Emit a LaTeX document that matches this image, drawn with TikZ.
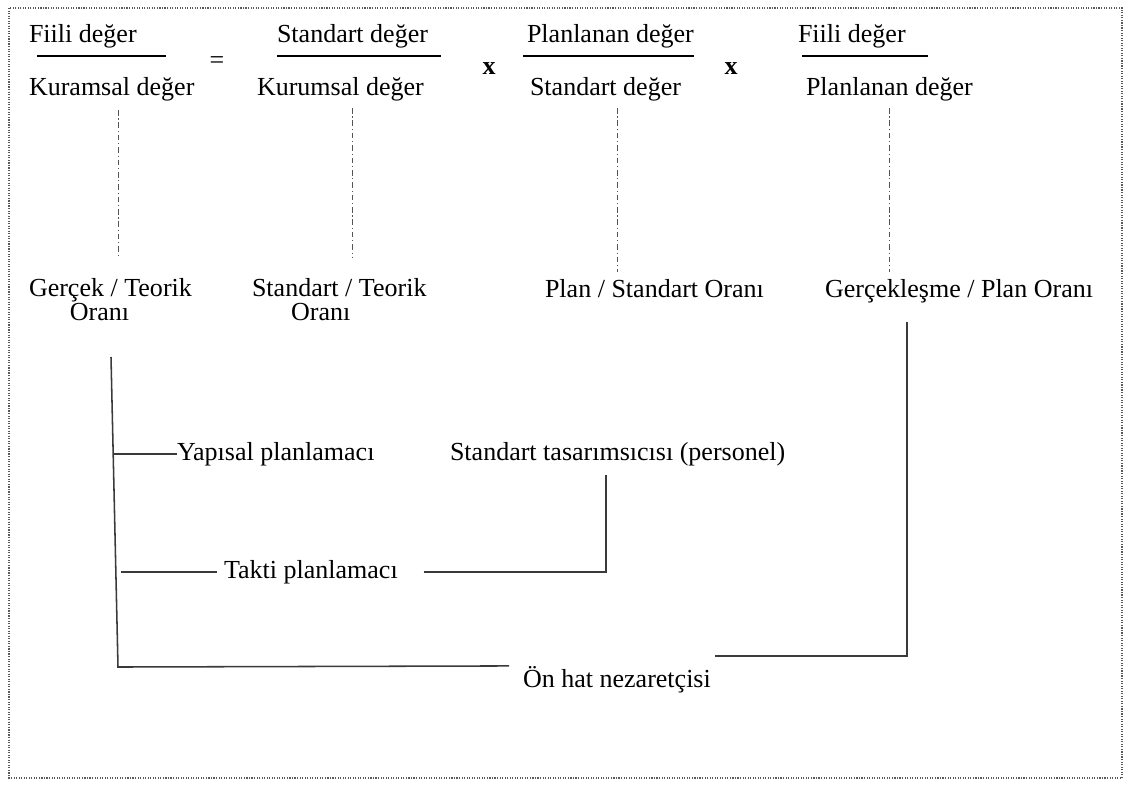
\documentclass[tikz,border=0pt]{standalone}
\usepackage{fontspec}
\setmainfont{Liberation Serif}
\usepackage{tikz}
\usetikzlibrary{positioning}
\definecolor{framegray}{HTML}{5A5A5A}
\definecolor{guidegray}{HTML}{555555}
\definecolor{treegray}{HTML}{3A3A3A}

\begin{document}
\begin{tikzpicture}[
  x=0.025cm, y=-0.025cm,
  every node/.style={font=\fontsize{18.5}{17}\selectfont, inner sep=0pt, outer sep=0pt},
  term/.style={anchor=base west},
  ratio/.style={anchor=base west, align=left},
  bar/.style={draw=black, line width=0.03cm},
  guide/.style={draw=guidegray, line width=0.6pt,
                dash pattern=on 4pt off 2pt on 0.8pt off 2pt},
  branch/.style={draw=treegray, line width=1.1pt},
  frame/.style={draw=framegray, line width=0.8pt, densely dotted}
]
\useasboundingbox (0,0) rectangle (1128,785);
\draw[frame] (9,8) rectangle (1122,778);

\node[term] (num1) at (29,42) {Fiili değer};
\node[term] (num2) at (277,42) {Standart değer};
\node[term] (num3) at (527,42) {Planlanan değer};
\node[term] (num4) at (798,42) {Fiili değer};
\draw[bar] (37,56) -- (166,56);
\draw[bar] (277,56) -- (441,56);
\draw[bar] (523,56) -- (694,56);
\draw[bar] (802,56) -- (928,56);
\node[term] (den1) at (29,95) {Kuramsal değer};
\node[term] (den2) at (257,95) {Kurumsal değer};
\node[term] (den3) at (530,95) {Standart değer};
\node[term] (den4) at (806,95) {Planlanan değer};
\node[anchor=base] (eq) at (217,68) {=};
\node[anchor=base] (times1) at (489,74) {\textbf{x}};
\node[anchor=base] (times2) at (731,74) {\textbf{x}};

\node[ratio] (oran1) at (29,320) {Gerçek / Teorik\\\hspace*{1.02cm}Oranı};
\node[ratio] (oran2) at (252,320) {Standart / Teorik\\\hspace*{0.98cm}Oranı};
\node[term] (oran3) at (545,297) {Plan / Standart Oranı};
\node[term] (oran4) at (825,297) {Gerçekleşme / Plan Oranı};

\coordinate (g1) at (118,110);
\coordinate (g2) at (352,108);
\coordinate (g3) at (617,108);
\coordinate (g4) at (889,108);
\draw[guide] (g1) -- (g1 |- 0,257);
\draw[guide] (g2) -- (g2 |- 0,258);
\draw[guide] (g3) -- (g3 |- 0,272);
\draw[guide] (g4) -- (g4 |- 0,272);

\node[term] (yapisal) at (177,460) {Yapısal planlamacı};
\node[term] (tasarimci) at (450,460) {Standart tasarımsıcısı (personel)};
\node[term] (takti) at (224,578) {Takti planlamacı};
\node[term] (onhat) at (523,687) {Ön hat nezaretçisi};

\coordinate (trunktop) at (111,357);
\coordinate (trunkfoot) at (118,667);
\coordinate (tasarimcifoot) at (606,475);
\coordinate (plantop) at (907,322);

\draw[branch] (trunktop) -- (trunkfoot) -- ([xshift=-0.35cm]onhat.north west);
\draw[branch] (yapisal.west) -- ++(-64,0);
\draw[branch] ([xshift=-0.18cm]takti.west) -- ++(-96,0);
\draw[branch] ([xshift=0.65cm]takti.east) -| (tasarimcifoot);
\draw[branch] ([xshift=0.1cm,yshift=0.25cm]onhat.north east) -| (plantop);
\end{tikzpicture}
\end{document}
